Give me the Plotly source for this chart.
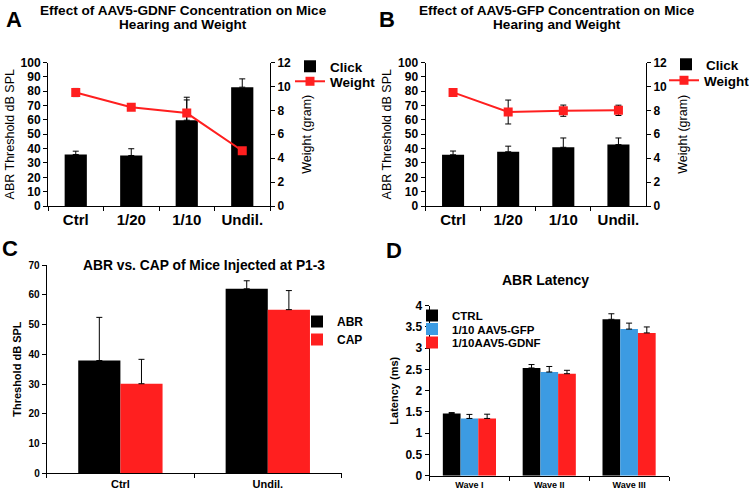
import plotly.graph_objects as go

W, H = 749, 495

# ---------------- data ----------------
cats_ab = ["Ctrl", "1/20", "1/10", "Undil."]
a_click = [35.9, 35.2, 59.8, 82.8]
a_click_err = [2.3, 4.7, 16.0, 5.8]
a_weight = [9.49, 8.25, 7.77, 4.62]
a_weight_err = [0.34, 0.1, 1.1, 0.1]

b_click = [35.7, 37.8, 40.9, 42.8]
b_click_err = [2.6, 3.9, 6.5, 4.6]
b_weight = [9.5, 7.86, 7.97, 8.0]
b_weight_err = [0.3, 1.0, 0.47, 0.43]

cats_c = ["Ctrl", "Undil."]
c_abr = [37.9, 62.0]
c_abr_err = [14.5, 2.7]
c_cap = [30.1, 55.0]
c_cap_err = [8.2, 6.4]

cats_d = ["Wave I", "Wave II", "Wave III"]
d_ctrl = [1.465, 2.535, 3.68]
d_ctrl_err = [0.02, 0.08, 0.13]
d_gfp = [1.347, 2.44, 3.45]
d_gfp_err = [0.095, 0.13, 0.14]
d_gdnf = [1.347, 2.40, 3.36]
d_gdnf_err = [0.10, 0.08, 0.14]

RED = "#ff1f1f"
BLUE = "#3c9be2"
FONT = "Liberation Sans, Arial, sans-serif"


def px_x(x0, x1):
    return [x0 / W, x1 / W]


def px_y(top, bottom):
    return [1 - bottom / H, 1 - top / H]


def err(vals, up_only=True):
    d = dict(type="data", array=vals, color="black", thickness=1, width=3)
    if up_only:
        d["symmetric"] = False
        d["arrayminus"] = [0] * len(vals)
    return d


fig = go.Figure()

# ---------------- Panel A ----------------
fig.add_trace(go.Bar(x=cats_ab, y=a_click, width=0.4, marker_color="black",
                     error_y=err(a_click_err), name="Click",
                     xaxis="x", yaxis="y", legend="legend"))
fig.add_trace(go.Scatter(x=cats_ab, y=a_weight, mode="lines+markers",
                         line=dict(color=RED, width=2),
                         marker=dict(symbol="square", size=9, color=RED),
                         error_y=dict(type="data", array=a_weight_err, color="black",
                                      thickness=1, width=3),
                         name="Weight", xaxis="x", yaxis="y2", legend="legend2"))

# ---------------- Panel B ----------------
fig.add_trace(go.Bar(x=cats_ab, y=b_click, width=0.4, marker_color="black",
                     error_y=err(b_click_err), name="Click",
                     xaxis="x2", yaxis="y3", legend="legend3"))
fig.add_trace(go.Scatter(x=cats_ab, y=b_weight, mode="lines+markers",
                         line=dict(color=RED, width=2),
                         marker=dict(symbol="square", size=9, color=RED),
                         error_y=dict(type="data", array=b_weight_err, color="black",
                                      thickness=1, width=3),
                         name="Weight", xaxis="x2", yaxis="y4", legend="legend4"))

# ---------------- Panel C ----------------
wc = 0.286
fig.add_trace(go.Bar(x=cats_c, y=c_abr, width=wc, offset=-wc, marker_color="black",
                     error_y=err(c_abr_err), name="ABR",
                     xaxis="x3", yaxis="y5", legend="legend5"))
fig.add_trace(go.Bar(x=cats_c, y=c_cap, width=wc, offset=0, marker_color=RED,
                     error_y=err(c_cap_err), name="CAP",
                     xaxis="x3", yaxis="y5", legend="legend6"))

# ---------------- Panel D ----------------
wd = 0.222
for vals, errs, col, nm, off, lg in [
    (d_ctrl, d_ctrl_err, "black", "CTRL", -1.5 * wd, "legend7"),
    (d_gfp, d_gfp_err, BLUE, "1/10 AAV5-GFP", -0.5 * wd, "legend8"),
    (d_gdnf, d_gdnf_err, RED, "1/10AAV5-GDNF", 0.5 * wd, "legend9"),
]:
    fig.add_trace(go.Bar(x=cats_d, y=vals, width=wd, offset=off, marker_color=col,
                         error_y=err(errs), name=nm,
                         xaxis="x4", yaxis="y6", legend=lg))

# ---------------- axes ----------------
axline = dict(showline=True, linecolor="black", linewidth=1, showgrid=False,
              zeroline=False, ticks="outside", tickcolor="black", ticklen=4,
              automargin=False)


def xcat(dom, anchor, size):
    return dict(domain=dom, anchor=anchor, type="category", tickson="boundaries",
                tickfont=dict(family=FONT, size=size, color="black", weight="bold"),
                **axline)


def ynum(dom, anchor, rng, dtick, size, title, tsize, tweight="normal", standoff=6, **kw):
    return dict(domain=dom, anchor=anchor, range=rng, dtick=dtick,
                tickfont=dict(family=FONT, size=size, color="black", weight="bold"),
                title=dict(text=title, font=dict(family=FONT, size=tsize, color="black",
                                                   weight=tweight), standoff=standoff),
                **axline, **kw)


ab_y = px_y(62.5, 206)

fig.update_layout(
    xaxis=xcat(px_x(48, 270), "y", 15),
    yaxis=ynum(ab_y, "x", [0, 100], 10, 12, "ABR Threshold dB SPL", 12.5, standoff=3),
    yaxis2=ynum(ab_y, "x", [0, 12], 2, 12, "Weight (gram)", 12.5, standoff=12,
                overlaying="y", side="right"),
    xaxis2=xcat(px_x(425.5, 646), "y3", 15),
    yaxis3=ynum(ab_y, "x2", [0, 100], 10, 12, "ABR Threshold dB SPL", 12.5, standoff=3),
    yaxis4=ynum(ab_y, "x2", [0, 12], 2, 12, "Weight (gram)", 12.5, standoff=12,
                overlaying="y3", side="right"),
    xaxis3=xcat(px_x(46.7, 341.5), "y5", 11),
    yaxis5=ynum(px_y(265, 473.3), "x3", [0, 70], 10, 10, "Threshold dB SPL", 11, "bold",
                standoff=4),
    xaxis4=xcat(px_x(429.5, 669), "y6", 9),
    yaxis6=ynum(px_y(305.7, 475.7), "x4", [0, 4], 0.5, 12, "Latency (ms)", 11, "bold",
                standoff=4),
)


# ---------------- legends (one per entry for exact spacing) ----------------
def leg(text_x, center_y, size):
    return dict(x=(text_x - 41) / W, y=1 - (center_y - 15) / H,
                xanchor="left", yanchor="top", bgcolor="rgba(0,0,0,0)",
                itemwidth=30,
                font=dict(family=FONT, size=size, color="black", weight="bold"))


fig.update_layout(
    template="none",
    barmode="overlay",
    showlegend=True,
    legend=leg(331, 66, 13.5),
    legend2=leg(331, 81, 13.5),
    legend3=leg(707, 64, 13.5),
    legend4=leg(705, 80, 13.5),
    legend5=leg(338, 322, 12),
    legend6=leg(338, 340, 12),
    legend7=leg(453, 316, 11.5),
    legend8=leg(453, 329.5, 11.5),
    legend9=leg(453, 343, 11.5),
)

# ---------------- titles & panel letters ----------------
ann = []


def text(x, y, t, size, xanchor="center"):
    ann.append(dict(x=x / W, y=1 - y / H, xref="paper", yref="paper", text=t,
                    showarrow=False, xanchor=xanchor, yanchor="middle",
                    font=dict(family=FONT, size=size, color="black", weight="bold")))


text(183, 10, "Effect of AAV5-GDNF Concentration on Mice", 13.6)
text(183, 25, "Hearing and Weight", 13.6)
text(557, 10, "Effect of AAV5-GFP Concentration on Mice", 13.6)
text(557, 25, "Hearing and Weight", 13.6)
text(204, 265, "ABR vs. CAP of Mice Injected at P1-3", 13.8)
text(545, 280, "ABR Latency", 14)
text(4, 19, "A", 22, "left")
text(377, 19, "B", 22, "left")
text(0, 248, "C", 22, "left")
text(384, 250, "D", 22, "left")

fig.update_layout(
    annotations=ann,
    width=W, height=H,
    margin=dict(l=0, r=0, t=0, b=0, autoexpand=False),
    paper_bgcolor="white", plot_bgcolor="white",
    font=dict(family=FONT, color="black"),
)

fig.write_html("out.html", config={"displayModeBar": False},
               post_script="document.body.style.margin='0';document.body.style.overflow='hidden';")
